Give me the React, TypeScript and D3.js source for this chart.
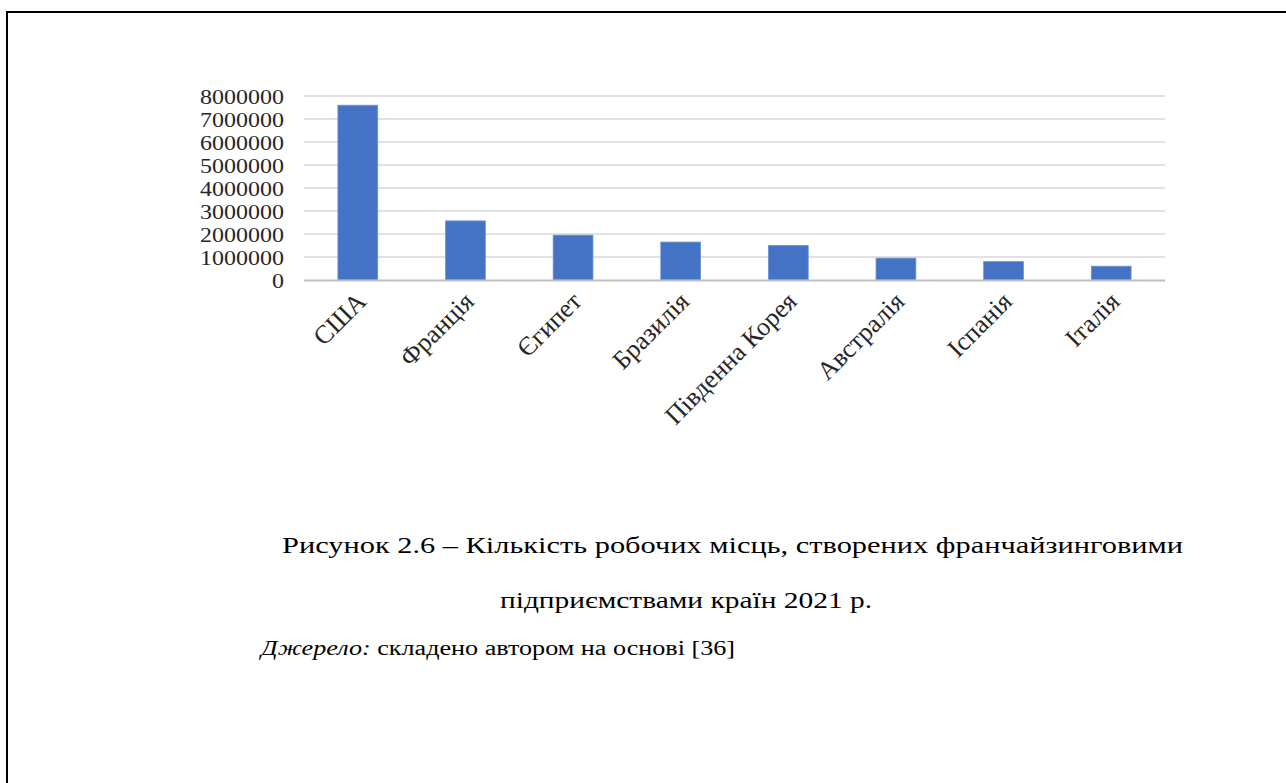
import React, { useEffect, useRef } from "react";
import * as d3 from "d3";

const countries = ["США", "Франція", "Єгипет", "Бразилія", "Південна Корея", "Австралія", "Іспанія", "Італія"];
const jobs = [7600000, 2570000, 1950000, 1650000, 1500000, 950000, 800000, 600000];
const yTicks = [0, 1000000, 2000000, 3000000, 4000000, 5000000, 6000000, 7000000, 8000000];
const captionLine1 = "Рисунок 2.6 – Кількість робочих місць, створених франчайзинговими";
const captionLine2 = "підприємствами країн 2021 р.";
const sourceLabel = "Джерело:";
const sourceText = " складено автором на основі [36]";

export default function App() {
  const ref = useRef<SVGSVGElement>(null);

  useEffect(() => {
    const svg = d3.select(ref.current);
    svg.selectAll("*").remove();
    const W = 1286, H = 783;
    const left = 304, right = 1165, top = 96, bottom = 280;
    const font = "Liberation Serif, DejaVu Serif, serif";

    svg.append("rect").attr("width", W).attr("height", H).attr("fill", "#fff");
    svg.append("line").attr("x1", 6).attr("x2", W).attr("y1", 12).attr("y2", 12).attr("stroke", "#000").attr("stroke-width", 2);
    svg.append("line").attr("x1", 7).attr("x2", 7).attr("y1", 11).attr("y2", H).attr("stroke", "#000").attr("stroke-width", 2);

    const x = d3.scaleBand<string>().domain(countries).range([left, right]).paddingInner(0.63).paddingOuter(0.315);
    const y = d3.scaleLinear().domain([0, 8000000]).range([bottom, top]);

    const g = svg.append("g");
    g.selectAll("line.grid").data(yTicks.filter(t => t > 0)).enter().append("line")
      .attr("x1", left).attr("x2", right)
      .attr("y1", d => y(d)).attr("y2", d => y(d))
      .attr("stroke", "#d9d9d9").attr("stroke-width", 1.3);

    g.selectAll("rect.bar").data(jobs).enter().append("rect")
      .attr("x", (_, i) => x(countries[i])!)
      .attr("width", x.bandwidth())
      .attr("y", d => y(d))
      .attr("height", d => bottom - y(d))
      .attr("fill", "#4472c4")
      .attr("stroke", "#6f93d6").attr("stroke-width", 0.8);

    g.append("line").attr("x1", left).attr("x2", right).attr("y1", bottom + 0.5).attr("y2", bottom + 0.5)
      .attr("stroke", "#bfbfbf").attr("stroke-width", 2.2);

    g.selectAll("text.yt").data(yTicks).enter().append("text")
      .attr("x", 284).attr("y", d => y(d)).attr("dy", "0.35em")
      .attr("text-anchor", "end")
      .style("font-family", font).style("font-size", "22px").attr("fill", "#262626")
      .attr("transform", "translate(284,0) scale(1.09,1) translate(-284,0)")
      .text(d => String(d));

    g.selectAll("text.xt").data(countries).enter().append("text")
      .attr("transform", d => `translate(${x(d)! + x.bandwidth() / 2 + 10},${bottom + 23}) rotate(-45)`)
      .attr("text-anchor", "end")
      .style("font-family", font).style("font-size", "26px").attr("fill", "#262626")
      .text(d => d);

    svg.append("text").attr("x", 282).attr("y", 553).style("font-family", font).style("font-size", "24px").attr("fill", "#000")
      .attr("textLength", 901).attr("lengthAdjust", "spacingAndGlyphs").text(captionLine1);
    svg.append("text").attr("x", 500).attr("y", 608).style("font-family", font).style("font-size", "24px").attr("fill", "#000")
      .attr("textLength", 372).attr("lengthAdjust", "spacingAndGlyphs").text(captionLine2);
    const src = svg.append("text").attr("x", 261).attr("y", 655).style("font-family", font).style("font-size", "20px").attr("fill", "#000")
      .attr("textLength", 474).attr("lengthAdjust", "spacingAndGlyphs");
    src.append("tspan").attr("font-style", "italic").text(sourceLabel);
    src.append("tspan").text(sourceText);
  }, []);

  return (
    <div style={{ position: "absolute", left: 0, top: 0 }}>
      <svg ref={ref} width={1286} height={783} style={{ display: "block" }} />
    </div>
  );
}
